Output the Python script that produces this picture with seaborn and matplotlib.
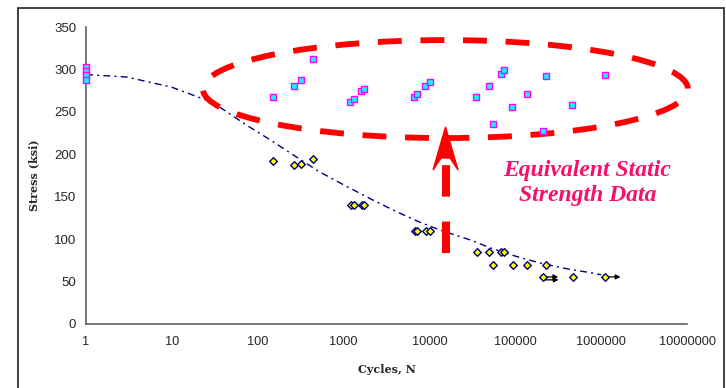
# S-N chart: fatigue data plus equivalent static strength data
import matplotlib
matplotlib.use('Agg')
import matplotlib.pyplot as plt
from matplotlib.patches import Ellipse, Polygon, Rectangle
import seaborn as sns
import pandas as pd

# static strength points (cycles, stress ksi)
static_n = [1, 1, 1, 1, 150, 264, 316, 435, 1194, 1307, 1603, 1723, 6640, 7130, 8910, 10020,
            35300, 49200, 54700, 67300, 73500, 92700, 136000, 209000, 225000, 458000, 1100000]
static_s = [303, 298, 293, 288, 267, 280, 288, 312, 262, 265, 274, 277, 268, 271, 280, 285,
            268, 281, 236, 295, 299, 256, 271, 228, 292, 258, 294]

# fatigue points
fatigue_n = [152, 266, 318, 439, 1206, 1307, 1620, 1730, 6760, 7230, 9010, 10100,
             35900, 50000, 67800, 73700, 55200, 94300, 136000, 225000, 211000, 467000, 1120000]
fatigue_s = [192, 187, 188, 195, 140, 140, 140, 140, 110, 110, 110, 110,
             85, 85, 85, 85, 70, 70, 70, 70, 55, 55, 55]

# run-outs (arrows)
runout_n = [211000, 213000, 1120000]
runout_s = [55.5, 52, 55.5]

# fitted curve
curve_n = [1, 3, 10, 30, 75, 140, 300, 530, 1000, 2200, 4000, 7700, 13000, 30000,
           50000, 100000, 190000, 400000, 800000, 1000000]
curve_s = [294, 291, 279, 261, 234, 217, 195, 179, 164, 146, 133, 120, 111, 99,
           90, 80, 72, 65, 60, 58]

x_ticks = [1, 10, 100, 1000, 10000, 100000, 1000000, 10000000]
x_labels = ['1', '10', '100', '1000', '10000', '100000', '1000000', '10000000']
y_ticks = [0, 50, 100, 150, 200, 250, 300, 350]

df_static = pd.DataFrame({'n': static_n, 's': static_s})
df_fat = pd.DataFrame({'n': fatigue_n, 's': fatigue_s})
df_curve = pd.DataFrame({'n': curve_n, 's': curve_s})

sns.set_style('white')
plt.rcParams['font.family'] = ['Liberation Sans', 'DejaVu Sans']

fig = plt.figure(figsize=(7.26, 3.88), dpi=100)
ax = fig.add_axes([0.1185, 0.165, 0.8278, 0.7654])

# outer chart frame
fig.patches.append(Rectangle((0.0248, -0.05), 0.973, 1.029, transform=fig.transFigure,
                             fill=False, edgecolor='#222222', lw=1.2))

sns.lineplot(x='n', y='s', data=df_curve, ax=ax, color='#000080', lw=1.0,
             sort=False, estimator=None)
ax.lines[-1].set_dashes((5, 3, 1.5, 3))

sns.scatterplot(x='n', y='s', data=df_static, ax=ax, marker='s', s=22,
                color='#00ffff', edgecolor='#ff00ff', linewidth=1.0, clip_on=False, zorder=4)
sns.scatterplot(x='n', y='s', data=df_fat, ax=ax, marker='D', s=15,
                color='#ffff00', edgecolor='#000080', linewidth=1.0, zorder=4)

for n, s in zip(runout_n, runout_s):
    ax.annotate('', xy=(n * 1.5, s), xytext=(n, s),
                arrowprops=dict(arrowstyle='-|>', color='black', lw=0.9,
                                mutation_scale=7, shrinkA=0, shrinkB=0))

ax.set_xscale('log')
ax.set_xlim(1, 1e7)
ax.set_ylim(0, 350)
ax.set_xticks(x_ticks)
ax.set_xticklabels(x_labels)
ax.set_yticks(y_ticks)
ax.minorticks_off()
ax.tick_params(axis='y', direction='out', length=4, width=1, color='#606060', labelsize=9.5, pad=3)
ax.tick_params(axis='x', direction='inout', length=5, width=1, color='#606060', labelsize=9.2, pad=6)

for side in ['top', 'right']:
    ax.spines[side].set_visible(False)
for side in ['left', 'bottom']:
    ax.spines[side].set_color('#606060')
    ax.spines[side].set_linewidth(1.2)

ax.set_xlabel('Cycles, N', family='DejaVu Serif', fontweight='bold', fontsize=8)
ax.set_ylabel('Stress (ksi)', family='DejaVu Serif', fontweight='bold', fontsize=8)
ax.xaxis.set_label_coords(0.5, -0.135)
ax.yaxis.set_label_coords(-0.078, 0.5)

# red dashed ellipse round the static data
ax.add_patch(Ellipse((0.598, 0.791), 0.807, 0.330, transform=ax.transAxes, fill=False,
                     edgecolor='#ff0000', lw=4.2, linestyle=(0, (4.1, 3.2)), clip_on=False, zorder=3))

# red dashed arrow
ax.plot([0.599, 0.599], [0.239, 0.56], transform=ax.transAxes, color='#ff0000', lw=5.8,
        dashes=(3.9, 3.1), solid_capstyle='butt', dash_capstyle='butt', clip_on=False)
ax.add_patch(Polygon([(0.5982, 0.6633), (0.6190, 0.5185), (0.6057, 0.5589),
                      (0.5907, 0.5589), (0.5774, 0.5185)], closed=True,
                     transform=ax.transAxes, color='#ff0000', clip_on=False))

ax.text(0.834, 0.475, 'Equivalent Static\nStrength Data', transform=ax.transAxes,
        ha='center', va='center', family='Liberation Serif', fontstyle='italic',
        fontweight='bold', fontsize=17, color='#f80f6a', linespacing=1.2)

plt.savefig('out.png', dpi=100)
